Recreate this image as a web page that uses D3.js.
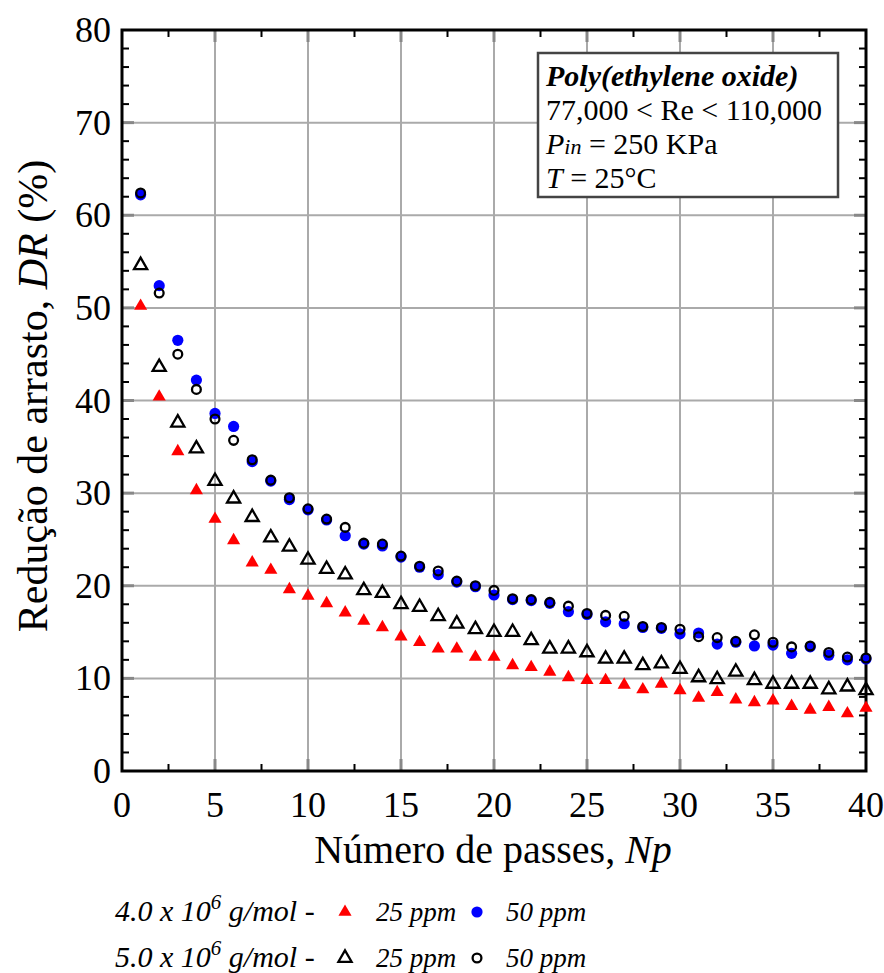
<!DOCTYPE html>
<html><head><meta charset="utf-8">
<script src="https://cdn.jsdelivr.net/npm/d3@7"></script>
<style>body{margin:0;background:#fff}svg{display:block}</style>
</head><body>
<svg id="c" width="884" height="973"></svg>
<script>
const passes = d3.range(1, 41);
const a25 = [50.2,40.4,34.5,30.3,27.2,24.9,22.5,21.7,19.6,18.9,18.1,17.1,16.2,15.5,14.5,13.9,13.2,13.2,12.3,12.3,11.4,11.2,10.7,10.1,9.8,9.8,9.3,8.8,9.4,8.7,7.9,8.5,7.7,7.4,7.6,7.0,6.6,6.9,6.2,6.8];
const a50 = [62.2,52.4,46.5,42.2,38.6,37.2,33.4,31.3,29.3,28.2,27.1,25.4,24.5,24.3,23.1,22.0,21.2,20.4,19.9,19.0,18.5,18.4,18.1,17.2,16.9,16.1,15.9,15.5,15.4,14.8,14.9,13.7,13.9,13.5,13.6,12.7,13.4,12.5,12.0,12.1];
const b25 = [54.6,43.6,37.6,34.8,31.3,29.4,27.4,25.2,24.2,22.8,21.8,21.2,19.5,19.2,18.0,17.7,16.7,15.9,15.3,15.0,15.0,14.1,13.2,13.2,12.8,12.1,12.1,11.4,11.6,11.0,10.1,9.9,10.7,9.8,9.4,9.4,9.4,8.8,9.1,8.7];
const b50 = [62.4,51.6,45.0,41.2,38.0,35.7,33.6,31.4,29.5,28.3,27.2,26.3,24.6,24.5,23.2,22.1,21.6,20.5,20.0,19.5,18.6,18.5,18.2,17.8,17.0,16.8,16.7,15.6,15.5,15.3,14.5,14.4,14.0,14.7,13.9,13.4,13.5,12.8,12.3,12.2];
const xTicks = [0,5,10,15,20,25,30,35,40];
const yTicks = [0,10,20,30,40,50,60,70,80];

const svg = d3.select("#c");
const L = 122, R = 866, T = 30, B = 771;
const x = d3.scaleLinear().domain([0,40]).range([L,R]);
const y = d3.scaleLinear().domain([0,80]).range([B,T]);
const serif = "'Liberation Serif','Times New Roman',serif";

// grid
const g = svg.append("g");
g.selectAll(".gx").data(xTicks.slice(1,-1)).join("line")
  .attr("x1", d=>x(d)).attr("x2", d=>x(d)).attr("y1", T).attr("y2", B)
  .attr("stroke", "#aaa").attr("stroke-width", 2);
g.selectAll(".gy").data(yTicks.slice(1,-1)).join("line")
  .attr("y1", d=>y(d)).attr("y2", d=>y(d)).attr("x1", L).attr("x2", R)
  .attr("stroke", "#aaa").attr("stroke-width", 2);

// minor ticks
const xMinor = d3.range(2.5, 40, 5);
const yMinor = d3.range(0, 80, 2).filter(v => v % 10 !== 0);
const tl = 7;
g.selectAll(".mx").data(xMinor).join("line")
  .attr("x1", d=>x(d)).attr("x2", d=>x(d)).attr("y1", B).attr("y2", B-tl)
  .attr("stroke", "#000").attr("stroke-width", 2);
g.selectAll(".mxt").data(xMinor).join("line")
  .attr("x1", d=>x(d)).attr("x2", d=>x(d)).attr("y1", T).attr("y2", T+tl)
  .attr("stroke", "#000").attr("stroke-width", 2);
g.selectAll(".my").data(yMinor).join("line")
  .attr("y1", d=>y(d)).attr("y2", d=>y(d)).attr("x1", L).attr("x2", L+tl)
  .attr("stroke", "#000").attr("stroke-width", 2);
g.selectAll(".myr").data(yMinor).join("line")
  .attr("y1", d=>y(d)).attr("y2", d=>y(d)).attr("x1", R).attr("x2", R-tl)
  .attr("stroke", "#000").attr("stroke-width", 2);
// major ticks (gray, thicker)
const mt = 12;
g.selectAll(".Mx").data(xTicks.slice(1,-1)).join("line")
  .attr("x1", d=>x(d)).attr("x2", d=>x(d)).attr("y1", B).attr("y2", B-mt)
  .attr("stroke", "#888").attr("stroke-width", 3);
g.selectAll(".Mxt").data(xTicks.slice(1,-1)).join("line")
  .attr("x1", d=>x(d)).attr("x2", d=>x(d)).attr("y1", T).attr("y2", T+mt)
  .attr("stroke", "#888").attr("stroke-width", 3);
g.selectAll(".My").data(yTicks.slice(1,-1)).join("line")
  .attr("y1", d=>y(d)).attr("y2", d=>y(d)).attr("x1", L).attr("x2", L+mt)
  .attr("stroke", "#888").attr("stroke-width", 3);
g.selectAll(".Myr").data(yTicks.slice(1,-1)).join("line")
  .attr("y1", d=>y(d)).attr("y2", d=>y(d)).attr("x1", R).attr("x2", R-mt)
  .attr("stroke", "#888").attr("stroke-width", 3);

// frame
svg.append("rect").attr("x", L).attr("y", T).attr("width", R-L).attr("height", B-T)
  .attr("fill", "none").attr("stroke", "#000").attr("stroke-width", 3);

// tick labels
svg.append("g").selectAll("text").data(xTicks).join("text")
  .attr("x", d=>x(d)).attr("y", B+46).attr("text-anchor","middle")
  .attr("font-family", serif).attr("font-size", 36).text(d=>d);
svg.append("g").selectAll("text").data(yTicks).join("text")
  .attr("x", L-11).attr("y", d=>y(d)+12).attr("text-anchor","end")
  .attr("font-family", serif).attr("font-size", 36).text(d=>d);

// axis titles
const xt = svg.append("text").attr("x", 493).attr("y", 863).attr("text-anchor","middle")
  .attr("font-family", serif).attr("font-size", 40);
xt.append("tspan").text("Número de passes, ");
xt.append("tspan").attr("font-style","italic").text("Np");
const yt = svg.append("text").attr("transform", `translate(47,396) rotate(-90)`)
  .attr("text-anchor","middle").attr("font-family", serif).attr("font-size", 42);
yt.append("tspan").text("Redução de arrasto, ");
yt.append("tspan").attr("font-style","italic").text("DR");
yt.append("tspan").text(" (%)");

// markers
const tri = d3.symbol().type(d3.symbolTriangle).size(75);
const plot = svg.append("g");
plot.selectAll(".ra").data(passes).join("path")
  .attr("d", tri).attr("transform", (d,i)=>`translate(${x(d)},${y(a25[i])})`)
  .attr("fill", "#ff0000");
plot.selectAll(".ba").data(passes).join("circle")
  .attr("cx", d=>x(d)).attr("cy", (d,i)=>y(a50[i])).attr("r", 5.6)
  .attr("fill", "#0000ff");
plot.selectAll(".tb").data(passes).join("path")
  .attr("d", tri).attr("transform", (d,i)=>`translate(${x(d)},${y(b25[i])})`)
  .attr("fill", "none").attr("stroke", "#000").attr("stroke-width", 2.3);
plot.selectAll(".cb").data(passes).join("circle")
  .attr("cx", d=>x(d)).attr("cy", (d,i)=>y(b50[i])).attr("r", 4.4)
  .attr("fill", "none").attr("stroke", "#000").attr("stroke-width", 2.3);

// info box
svg.append("rect").attr("x", 538).attr("y", 53).attr("width", 300).attr("height", 144)
  .attr("fill", "#fff").attr("stroke", "#444").attr("stroke-width", 2.5);
const bx = 546, bf = 30;
svg.append("text").attr("x", bx).attr("y", 86).attr("font-family", serif).attr("font-size", bf)
  .attr("font-weight","bold").attr("font-style","italic").text("Poly(ethylene oxide)");
svg.append("text").attr("x", bx).attr("y", 120).attr("font-family", serif).attr("font-size", bf)
  .text("77,000 < Re < 110,000");
const p = svg.append("text").attr("x", bx).attr("y", 154).attr("font-family", serif).attr("font-size", bf);
p.append("tspan").attr("font-style","italic").text("P");
p.append("tspan").attr("font-style","italic").attr("font-size", 22).text("in");
p.append("tspan").text(" = 250 KPa");
const tt = svg.append("text").attr("x", bx).attr("y", 188).attr("font-family", serif).attr("font-size", bf);
tt.append("tspan").attr("font-style","italic").text("T");
tt.append("tspan").text(" = 25°C");

// legend
function legendRow(yy, mw, items) {
  const t = svg.append("text").attr("x", 115).attr("y", yy).attr("font-family", serif)
    .attr("font-size", 30).attr("font-style","italic");
  t.append("tspan").text(mw + " x 10");
  t.append("tspan").attr("dy", -12).attr("font-size", 21).text("6");
  t.append("tspan").attr("dy", 12).text(" g/mol -");
  items.forEach(it => {
    if (it.kind === "tri") {
      svg.append("path").attr("d", tri).attr("transform", `translate(${it.mx},${yy-9})`)
        .attr("fill", it.fill).attr("stroke", it.stroke).attr("stroke-width", it.stroke==="none"?0:2.3);
    } else {
      svg.append("circle").attr("cx", it.mx).attr("cy", yy-9).attr("r", it.fill==="none"?4.4:5.6)
        .attr("fill", it.fill).attr("stroke", it.stroke).attr("stroke-width", it.stroke==="none"?0:2.3);
    }
    svg.append("text").attr("x", it.tx).attr("y", yy).attr("font-family", serif)
      .attr("font-size", 27).attr("font-style","italic").text(it.label);
  });
}
legendRow(921, "4.0", [
  {kind:"tri", mx:345, fill:"#ff0000", stroke:"none", tx:376, label:"25 ppm"},
  {kind:"circ", mx:477, fill:"#0000ff", stroke:"none", tx:506, label:"50 ppm"}
]);
legendRow(967, "5.0", [
  {kind:"tri", mx:345, fill:"none", stroke:"#000", tx:376, label:"25 ppm"},
  {kind:"circ", mx:477, fill:"none", stroke:"#000", tx:506, label:"50 ppm"}
]);
</script>
</body></html>
